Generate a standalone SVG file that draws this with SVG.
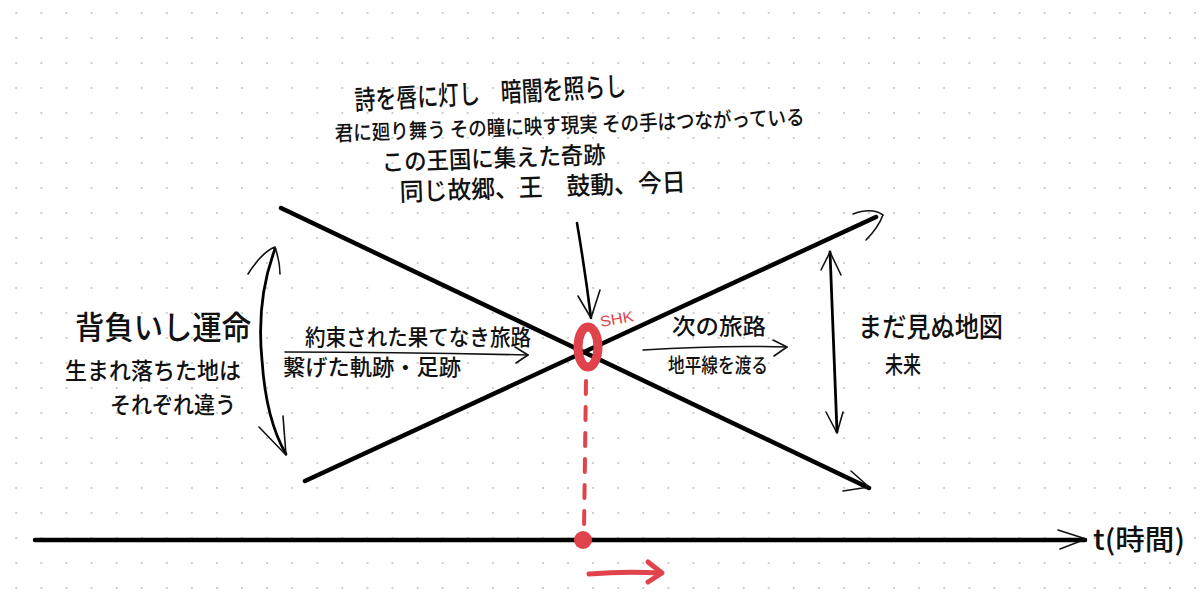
<svg xmlns="http://www.w3.org/2000/svg" width="1200" height="596" viewBox="0 0 1200 596">
<style>
.t{font-family:"Noto Sans CJK JP","Noto Sans",sans-serif;fill:#111;font-weight:500;}
.ln{stroke:#000;fill:none;stroke-linecap:round;stroke-linejoin:round;}
.thin{stroke:#111;fill:none;stroke-width:1.6;stroke-linecap:round;stroke-linejoin:round;}
.red{stroke:#e0434b;fill:none;stroke-linecap:round;stroke-linejoin:round;}
</style>
<defs>
<pattern id="dots" x="16.3" y="13" width="25.08" height="25" patternUnits="userSpaceOnUse">
<circle cx="0" cy="0" r="1.1" fill="#c4c4c4"/>
<circle cx="25.08" cy="0" r="1.1" fill="#c4c4c4"/>
<circle cx="0" cy="25" r="1.1" fill="#c4c4c4"/>
<circle cx="25.08" cy="25" r="1.1" fill="#c4c4c4"/>
</pattern>
</defs>
<rect width="1200" height="596" fill="#fff"/>
<rect width="1200" height="596" fill="url(#dots)"/>

<g id="connectors">
<path class="ln" stroke-width="4.5" d="M281,208 L869,488"/>
<path class="thin" d="M851,471 L869,487 L843,491"/>
<path class="ln" stroke-width="4.5" d="M305,481 L876,217"/>
<path class="thin" d="M853,214 Q872,207 883,215 Q878,228 866,240"/>
<path class="ln" stroke-width="4.5" d="M35,540 L1085,540"/>
<path class="thin" stroke-width="2" d="M1058,530 L1086,539 L1060,549"/>
<path class="ln" stroke-width="2.6" d="M577,223 Q585,270 591,318"/>
<path class="thin" d="M578,296 L591,318 L600,290"/>
<path class="ln" stroke-width="2.8" d="M275,249 Q256,300 262,360 Q266,420 286,454"/>
<path class="thin" d="M248,274 Q262,252 275,247 Q280,262 280,274"/>
<path class="thin" d="M259,427 L286,455 L283,416"/>
<path class="ln" stroke-width="2.8" d="M830,252 L837,432"/>
<path class="thin" stroke-width="2" d="M821,270 L830,252 L841,275"/>
<path class="thin" stroke-width="2.4" d="M826,412 L837,433 L843,412"/>
<path class="thin" stroke-width="1.3" d="M285,352 Q400,352 528,355"/>
<path class="thin" stroke-width="1.3" d="M515,347 L528,355 L516,363"/>
<path class="thin" stroke-width="1.3" d="M643,350 Q720,345 787,347"/>
<path class="thin" stroke-width="1.3" d="M773,340 L787,347 L774,356"/>
<path class="red" stroke-width="4" stroke-dasharray="13 13" d="M586,381 L584,530"/>
<path class="red" stroke-width="5" d="M589,574 Q625,571 660,573"/>
<path class="red" stroke-width="5" d="M648,562 L662,573 L648,582"/>
</g>

<g id="node-shk">
<ellipse cx="588" cy="347" rx="10" ry="20" fill="none" stroke="#e0434b" stroke-width="9"/>
<text x="601" y="327" font-family="Liberation Sans,sans-serif" font-size="15" fill="#e0434b" textLength="34" lengthAdjust="spacingAndGlyphs" transform="rotate(-10 601 327)">SHK</text>
</g>
<g id="node-origin">
<circle cx="583" cy="540" r="9" fill="#e0434b"/>
</g>

<g id="node-top">
<text class="t" x="355" y="110" font-size="27" textLength="272" lengthAdjust="spacingAndGlyphs" transform="rotate(-3 355 110)">詩を唇に灯し　暗闇を照らし</text>
<text class="t" x="335" y="141" font-size="21" textLength="470" lengthAdjust="spacingAndGlyphs" transform="rotate(-2 335 141)">君に廻り舞う その瞳に映す現実 その手はつながっている</text>
<text class="t" x="382" y="171" font-size="24" textLength="224" lengthAdjust="spacingAndGlyphs" transform="rotate(-2 382 171)">この王国に集えた奇跡</text>
<text class="t" x="400" y="201" font-size="25" textLength="286" lengthAdjust="spacingAndGlyphs" transform="rotate(-2 400 201)">同じ故郷、王　鼓動、今日</text>
</g>

<g id="node-left">
<text class="t" x="75" y="339" font-size="32" textLength="176" lengthAdjust="spacingAndGlyphs">背負いし運命</text>
<text class="t" x="65" y="379" font-size="23" textLength="176" lengthAdjust="spacingAndGlyphs">生まれ落ちた地は</text>
<text class="t" x="110" y="413" font-size="23" textLength="126" lengthAdjust="spacingAndGlyphs">それぞれ違う</text>
</g>

<g id="node-mid-left">
<text class="t" x="305" y="345" font-size="22" textLength="226" lengthAdjust="spacingAndGlyphs">約束された果てなき旅路</text>
<text class="t" x="283" y="375" font-size="22" textLength="178" lengthAdjust="spacingAndGlyphs">繋げた軌跡・足跡</text>
</g>

<g id="node-mid-right">
<text class="t" x="672" y="334" font-size="22" textLength="94" lengthAdjust="spacingAndGlyphs">次の旅路</text>
<text class="t" x="668" y="373" font-size="20" textLength="100" lengthAdjust="spacingAndGlyphs">地平線を渡る</text>
</g>

<g id="node-right">
<text class="t" x="858" y="337" font-size="27" textLength="145" lengthAdjust="spacingAndGlyphs">まだ見ぬ地図</text>
<text class="t" x="885" y="373" font-size="23" textLength="36" lengthAdjust="spacingAndGlyphs">未来</text>
</g>

<g id="node-time">
<text class="t" x="1093" y="550" font-size="28" textLength="92" lengthAdjust="spacingAndGlyphs">t(時間)</text>
</g>
</svg>
